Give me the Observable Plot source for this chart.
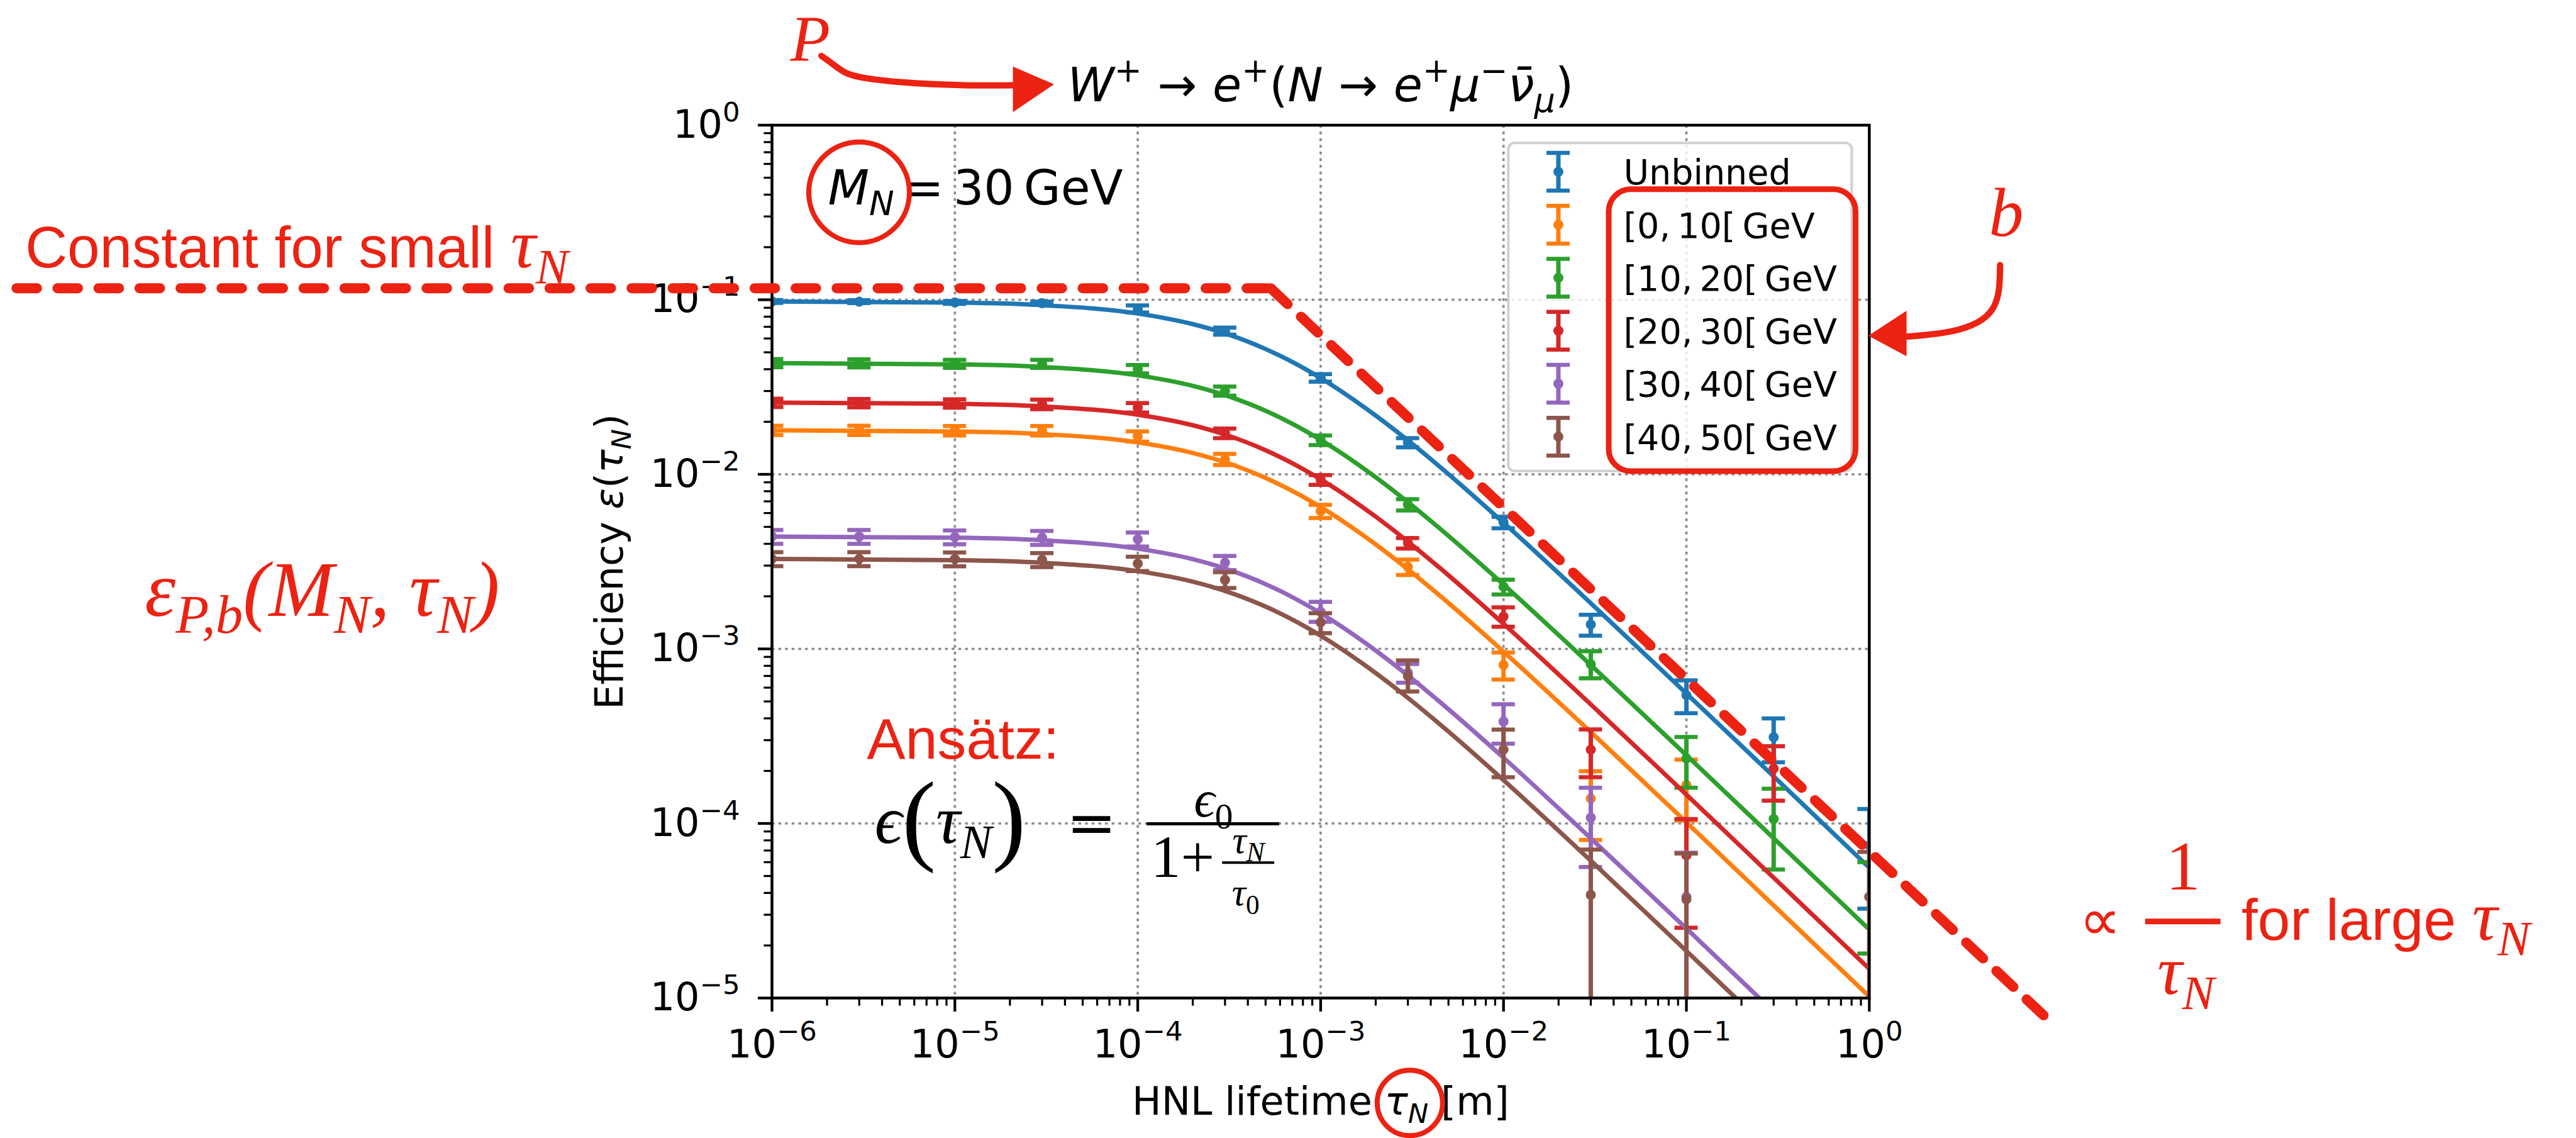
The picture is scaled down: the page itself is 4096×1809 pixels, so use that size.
<!DOCTYPE html>
<html><head><meta charset="utf-8">
<script src="https://cdn.jsdelivr.net/npm/d3@7"></script>
<script src="https://cdn.jsdelivr.net/npm/@observablehq/plot@0.6"></script>
<style>
html,body{margin:0;padding:0;background:#fff;}
#chart{width:4096px;height:1809px;overflow:hidden;}
svg [aria-label^="x-axis"] line, svg [aria-label^="x-axis"] path,
svg [aria-label^="y-axis"] line, svg [aria-label^="y-axis"] path { stroke-width: 4.3px; stroke: #000; }
svg [aria-label^="x-axis"] text, svg [aria-label^="y-axis"] text { font-size: 62px; }
</style></head><body><div id="chart"></div>
<script>
// ---------------- data ----------------
const tau = [1e-6, 3e-6, 1e-5, 3e-5, 1e-4, 3e-4, 1e-3, 3e-3, 1e-2, 3e-2, 1e-1, 3e-1, 1];

const seriesNames = ["Unbinned", "[0,\u200910[\u2009GeV", "[10,\u200920[\u2009GeV", "[20,\u200930[\u2009GeV", "[30,\u200940[\u2009GeV", "[40,\u200950[\u2009GeV"];
const seriesColors = ["#1f77b4", "#ff7f0e", "#2ca02c", "#d62728", "#9467bd", "#8c564b"];

const effUnbinned = [0.0977, 0.0975, 0.0965, 0.0955, 0.0887, 0.0662, 0.0357, 0.0152, 0.00531, 0.00138, 0.000543, 0.000312, 0.000075];
const hiUnbinned  = [0.0995, 0.0993, 0.0983, 0.0975, 0.0928, 0.0693, 0.0375, 0.0161, 0.00571, 0.00157, 0.00066, 0.0004, 0.000121];
const loUnbinned  = [0.0959, 0.0957, 0.0947, 0.0935, 0.0846, 0.0631, 0.0339, 0.0143, 0.00491, 0.00119, 0.000428, 0.000224, 0.0000325];

const eff0to10 = [0.0179, 0.0179, 0.0178, 0.0178, 0.0165, 0.0122, 0.00615, 0.00295, 0.000809, 0.000139, 0.000166, null, null];
const hi0to10  = [0.0190, 0.0190, 0.0189, 0.0189, 0.0176, 0.0131, 0.00668, 0.00325, 0.000953, 0.000199, 0.000232, null, null];
const lo0to10  = [0.0168, 0.0168, 0.0167, 0.0167, 0.0154, 0.0113, 0.00562, 0.00265, 0.000667, 0.0000805, 0.000104, null, null];

const eff10to20 = [0.0434, 0.0433, 0.0430, 0.0430, 0.0401, 0.0300, 0.0157, 0.0067, 0.00227, 0.000817, 0.000236, 0.000106, 0.000038];
const hi10to20  = [0.0457, 0.0456, 0.0453, 0.0453, 0.0423, 0.0318, 0.0167, 0.0072, 0.00249, 0.000969, 0.000313, 0.000158, 0.00006];
const lo10to20  = [0.0411, 0.0410, 0.0407, 0.0407, 0.0379, 0.0282, 0.0147, 0.0062, 0.00205, 0.000678, 0.00016, 0.0000544, 0.000018];

const eff20to30 = [0.0257, 0.0256, 0.0255, 0.0252, 0.0241, 0.0172, 0.0093, 0.00404, 0.00153, 0.000265, 0.0000657, 0.000206, null];
const hi20to30  = [0.0271, 0.0270, 0.0269, 0.0268, 0.0256, 0.0183, 0.0099, 0.00432, 0.00173, 0.000346, 0.000106, 0.000277, null];
const lo20to30  = [0.0243, 0.0242, 0.0241, 0.0236, 0.0226, 0.0161, 0.0087, 0.00376, 0.00134, 0.000184, 0.0000253, 0.000135, null];

const eff30to40 = [0.00440, 0.00440, 0.00437, 0.00434, 0.00425, 0.00312, 0.00163, 0.00073, 0.000384, 0.000108, 0.000038, null, null];
const hi30to40  = [0.00480, 0.00480, 0.00477, 0.00474, 0.00464, 0.00341, 0.00186, 0.00082, 0.000482, 0.00016, 0.000068, null, null];
const lo30to40  = [0.00400, 0.00400, 0.00397, 0.00394, 0.00386, 0.00283, 0.00143, 0.00064, 0.000286, 0.0000563, 1e-7, null, null];

const eff40to50 = [0.00328, 0.00328, 0.00327, 0.00324, 0.00308, 0.00249, 0.00142, 0.00070, 0.000265, 0.000039, 0.0000368, null, 0.000038];
const hi40to50  = [0.00358, 0.00358, 0.00357, 0.00354, 0.00337, 0.00275, 0.00160, 0.00086, 0.000345, 0.0000708, 0.0000673, null, 0.0000687];
const lo40to50  = [0.00298, 0.00298, 0.00297, 0.00294, 0.00279, 0.00223, 0.00123, 0.00057, 0.000184, 1e-7, 1e-7, null, 1e-7];

// fitted curves
const fitTau = [1e-6, 1e-5, 3e-5, 1e-4, 2e-4, 3e-4, 5e-4, 7e-4, 1e-3, 2e-3, 3e-3, 5e-3, 1e-2, 3e-2, 1e-1, 3e-1, 1];
const fitUnbinned = [0.0978, 0.0963, 0.0931, 0.0834, 0.0725, 0.0642, 0.0522, 0.0440, 0.0356, 0.0217, 0.01565, 0.01003, 0.00528, 0.001827, 0.000555, 0.000186, 0.0000558];
const fit0to10  = [0.01787, 0.01759, 0.01701, 0.01523, 0.01325, 0.01173, 0.009535, 0.008034, 0.006499, 0.00397, 0.002858, 0.001832, 0.000965, 0.000334, 0.0001015, 0.0000339, 0.0000102];
const fit10to20 = [0.04332, 0.04265, 0.04123, 0.03692, 0.03213, 0.02843, 0.02312, 0.01948, 0.01576, 0.009626, 0.006929, 0.004441, 0.00234, 0.000809, 0.000246, 0.0000823, 0.0000247];
const fit20to30 = [0.02575, 0.02536, 0.02451, 0.02195, 0.0191, 0.0169, 0.01374, 0.01158, 0.009367, 0.005722, 0.004119, 0.00264, 0.001391, 0.000481, 0.0001462, 0.0000489, 0.0000147];
const fit30to40 = [0.004402, 0.004334, 0.00419, 0.003752, 0.003265, 0.002889, 0.002349, 0.001979, 0.001601, 0.000978, 0.000704, 0.000451, 0.000238, 0.0000822, 0.000025, 0.00000836, 0.00000251];
const fit40to50 = [0.003274, 0.003223, 0.003116, 0.00279, 0.002428, 0.002149, 0.001747, 0.001472, 0.001191, 0.000727, 0.000524, 0.000336, 0.000177, 0.0000612, 0.0000186, 0.00000622, 0.00000187];

// axis ticks
const xMajor = [1e-6, 1e-5, 1e-4, 1e-3, 1e-2, 1e-1, 1];
const xTickLabels = ["10^{\u22126}", "10^{\u22125}", "10^{\u22124}", "10^{\u22123}", "10^{\u22122}", "10^{\u22121}", "10^{0}"];
const yMajor = [1e-5, 1e-4, 1e-3, 1e-2, 1e-1, 1];
const yTickLabels = ["10^{\u22125}", "10^{\u22124}", "10^{\u22123}", "10^{\u22122}", "10^{\u22121}", "10^{0}"];

// texts
const titleText = "*W*^{+}\u2004\u2192\u2004*e*^{+}(*N*\u2004\u2192\u2004*e*^{+}*\u03bc*^{\u2212}*\u03bd\u0304*_{*\u03bc*})";
const massText = "*M*_{*N*}\u2009=\u200930\u2009GeV";
const xLabel = "HNL lifetime *\u03c4*_{*N*} [m]";
const yLabel = "Efficiency *\u03b5*(*\u03c4*_{*N*})";

// annotation anchors in log10(tau), log10(eff)
const RED = "#ec2212";
const constLine = [[-10.131, -0.934], [-3.273, -0.934]];
const slopeLine = [[-3.273, -0.934], [0.957, -5.103]];
const pArrow = [[-5.730, 0.397], [-5.675, 0.356], [-5.600, 0.302], [-5.490, 0.270], [-5.275, 0.245], [-4.951, 0.229], [-4.681, 0.229]];
const pHead = [[-4.681, 0.3338, 0.0731], [-4.456, 0.232, 0.232]];
const bArrow = [[0.715, -0.801], [0.709, -0.938], [0.676, -1.049], [0.594, -1.128], [0.457, -1.179], [0.306, -1.202], [0.206, -1.211]];
const bHead = [[-0.0036, -1.2079, -1.2079], [0.2055, -1.0648, -1.3255]];

// ---------------- helpers ----------------
const P10 = v => 10 ** v;
const capF = 10 ** (18.5 / 290.8);        // half width of error caps (px / px-per-decade)
const series = seriesNames.map((name, i) => ({
  name, color: seriesColors[i],
  eff: [effUnbinned, eff0to10, eff10to20, eff20to30, eff30to40, eff40to50][i],
  hi: [hiUnbinned, hi0to10, hi10to20, hi20to30, hi30to40, hi40to50][i],
  lo: [loUnbinned, lo0to10, lo10to20, lo20to30, lo30to40, lo40to50][i],
  fit: [fitUnbinned, fit0to10, fit10to20, fit20to30, fit30to40, fit40to50][i]
}));
const pts = s => tau.map((t, i) => ({tau: t, eff: s.eff[i], hi: s.hi[i], lo: s.lo[i]})).filter(d => d.eff != null);
const fitRows = s => fitTau.map((t, i) => ({tau: t, eff: s.fit[i]}));
const xMinor = [], yMinor = [];
for (let k = -6; k < 0; k++) for (let m = 2; m <= 9; m++) xMinor.push(m * 10 ** k);
for (let k = -5; k < 0; k++) for (let m = 2; m <= 9; m++) yMinor.push(m * 10 ** k);

const legendTopLY = -0.267, legendStepLY = 0.3035, legendIconLX = -1.700, legendTextLX = -1.344;
const legendRows = series.map((s, i) => ({label: s.name, color: s.color, ly: legendTopLY - i * legendStepLY}));

const lineRows = arr => arr.map(([a, b]) => ({x: P10(a), y: P10(b)}));
const headRows = arr => arr.map(([a, b, c]) => ({x: P10(a), y1: P10(b), y2: P10(c)}));
const txt = (lx, ly, text) => [{x: P10(lx), y: P10(ly), text}];

const dataMarks = series.flatMap(s => [
  Plot.line(fitRows(s), {x: "tau", y: "eff", stroke: s.color, strokeWidth: 7, curve: "monotone-x", clip: true}),
  Plot.ruleX(pts(s), {x: "tau", y1: "lo", y2: "hi", stroke: s.color, strokeWidth: 7, clip: true}),
  Plot.ruleY(pts(s), {y: "hi", x1: d => d.tau / capF, x2: d => d.tau * capF, stroke: s.color, strokeWidth: 6.5, clip: true}),
  Plot.ruleY(pts(s), {y: "lo", x1: d => d.tau / capF, x2: d => d.tau * capF, stroke: s.color, strokeWidth: 6.5, clip: true}),
  Plot.dot(pts(s), {x: "tau", y: "eff", r: 8, fill: s.color, clip: true})
]);

const sans = "'DejaVu Sans', sans-serif";
const redSans = "'Liberation Sans', Arial, sans-serif";
const serif = "'Liberation Serif', 'Times New Roman', serif";

const svg = Plot.plot({
  width: 4096, height: 1809,
  marginLeft: 1227, marginRight: 1124.2, marginTop: 198.5, marginBottom: 223,
  style: {background: "#fff", fontFamily: sans, fontSize: "62px", color: "#000", overflow: "visible"},
  x: {type: "log", domain: [1e-6, 1], ticks: xMajor, tickFormat: d => xTickLabels[xMajor.indexOf(d)], tickSize: 22, tickPadding: 28, label: null},
  y: {type: "log", domain: [1e-5, 1], ticks: yMajor, tickFormat: d => yTickLabels[yMajor.indexOf(d)], tickSize: 22, tickPadding: 29, label: null},
  marks: [
    // grid
    Plot.ruleX(xMajor, {x: d => d, stroke: "#8c8c8c", strokeWidth: 3.7, strokeDasharray: "4.5,6.1"}),
    Plot.ruleY(yMajor, {y: d => d, stroke: "#8c8c8c", strokeWidth: 3.7, strokeDasharray: "4.5,6.1"}),
    // minor ticks
    Plot.ruleX(xMinor, {x: d => d, y1: () => 1e-5, y2: () => 1e-5 * 10 ** (-12.6 / 277.5), stroke: "#000", strokeWidth: 3.2}),
    Plot.ruleY(yMinor, {y: d => d, x1: () => 1e-6, x2: () => 1e-6 * 10 ** (-12.6 / 290.8), stroke: "#000", strokeWidth: 3.2}),
    ...dataMarks,
    Plot.frame({stroke: "#000", strokeWidth: 4.5}),
    // legend
    Plot.rect([{}], {x1: () => P10(-1.972), x2: () => P10(-0.0945), y1: () => P10(-0.1033), y2: () => P10(-1.9825), rx: 10, fill: "#fff", fillOpacity: 0.8, stroke: "#d0d0d0", strokeWidth: 4}),
    Plot.ruleX(legendRows, {x: () => P10(legendIconLX), y1: d => P10(d.ly - 0.108), y2: d => P10(d.ly + 0.108), stroke: "color", strokeWidth: 7}),
    Plot.ruleY(legendRows, {y: d => P10(d.ly - 0.108), x1: () => P10(legendIconLX) / capF, x2: () => P10(legendIconLX) * capF, stroke: "color", strokeWidth: 6.5}),
    Plot.ruleY(legendRows, {y: d => P10(d.ly + 0.108), x1: () => P10(legendIconLX) / capF, x2: () => P10(legendIconLX) * capF, stroke: "color", strokeWidth: 6.5}),
    Plot.dot(legendRows, {x: () => P10(legendIconLX), y: d => P10(d.ly), r: 8, fill: "color"}),
    Plot.text(legendRows, {x: () => P10(legendTextLX), y: d => P10(d.ly - 0.0735), text: "label", textAnchor: "start", lineAnchor: "bottom", fontSize: 55.5, fill: "#000"}),
    // black texts
    Plot.text([titleText], {text: d => d, frameAnchor: "top", dy: -38, textAnchor: "middle", lineAnchor: "bottom", fontSize: 75, fill: "#000"}),
    Plot.text([massText], {text: d => d, frameAnchor: "top-left", dx: 89, dy: 126, lineAnchor: "bottom", textAnchor: "start", fontSize: 76, fill: "#000"}),
    Plot.text([yLabel], {text: d => d, frameAnchor: "left", rotate: -90, dx: -238, textAnchor: "middle", lineAnchor: "bottom", fontSize: 62, fill: "#000"}),
    Plot.text([xLabel], {text: d => d, frameAnchor: "bottom", dy: 185, textAnchor: "middle", lineAnchor: "bottom", fontSize: 62, fill: "#000"}),
    // ansatz formula
    Plot.text(txt(-5.439, -4.113, "*\u03f5*!{(}*\u03c4*_{*N*}!{)}"), {x: "x", y: "y", text: "text", textAnchor: "start", lineAnchor: "bottom", fontFamily: serif, fontSize: 108, fill: "#000"}),
    Plot.text(txt(-4.253, -4.113, "="), {x: "x", y: "y", text: "text", lineAnchor: "bottom", fontFamily: sans, fontSize: 95, fill: "#000"}),
    Plot.ruleY([{}], {y: () => P10(-4.002), x1: () => P10(-3.950), x2: () => P10(-3.225), stroke: "#000", strokeWidth: 5}),
    Plot.text(txt(-3.586, -3.962, "*\u03f5*_{0}"), {x: "x", y: "y", text: "text", lineAnchor: "bottom", fontFamily: serif, fontSize: 82, fill: "#000"}),
    Plot.text(txt(-3.928, -4.307, "1+"), {x: "x", y: "y", text: "text", textAnchor: "start", lineAnchor: "bottom", fontFamily: serif, fontSize: 95, fill: "#000"}),
    Plot.text(txt(-3.395, -4.168, "*\u03c4*_{*N*}"), {x: "x", y: "y", text: "text", lineAnchor: "bottom", fontFamily: serif, fontSize: 62, fill: "#000"}),
    Plot.ruleY([{}], {y: () => P10(-4.224), x1: () => P10(-3.537), x2: () => P10(-3.252), stroke: "#000", strokeWidth: 4}),
    Plot.text(txt(-3.410, -4.469, "*\u03c4*_{0}"), {x: "x", y: "y", text: "text", lineAnchor: "bottom", fontFamily: serif, fontSize: 62, fill: "#000"}),
    // red annotations
    Plot.line(lineRows(constLine), {x: "x", y: "y", stroke: RED, strokeWidth: 16, strokeDasharray: "32.6,32.6"}),
    Plot.line(lineRows(slopeLine), {x: "x", y: "y", stroke: RED, strokeWidth: 16, strokeDasharray: "37,29"}),
    Plot.rect([{}], {x1: () => P10(-1.4231), x2: () => P10(-0.0734), y1: () => P10(-0.3687), y2: () => P10(-1.9835), rx: 35, fill: "none", stroke: RED, strokeWidth: 9}),
    Plot.dot(txt(-5.5238, -0.3846, ""), {x: "x", y: "y", r: 80, stroke: RED, strokeWidth: 8, fill: "none"}),
    Plot.dot(txt(-2.512, -5.601, ""), {x: "x", y: "y", r: 52, stroke: RED, strokeWidth: 8, fill: "none"}),
    Plot.line(lineRows(pArrow), {x: "x", y: "y", curve: "natural", stroke: RED, strokeWidth: 10, strokeLinecap: "round"}),
    Plot.areaY(headRows(pHead), {x: "x", y1: "y1", y2: "y2", fill: RED}),
    Plot.line(lineRows(bArrow), {x: "x", y: "y", curve: "natural", stroke: RED, strokeWidth: 10, strokeLinecap: "round"}),
    Plot.areaY(headRows(bHead), {x: "x", y1: "y1", y2: "y2", fill: RED}),
    Plot.text(txt(-5.7907, 0.3658, "P"), {x: "x", y: "y", text: "text", lineAnchor: "bottom", fontFamily: serif, fontStyle: "italic", fontSize: 104, fill: RED}),
    Plot.text(txt(0.7486, -0.6357, "b"), {x: "x", y: "y", text: "text", lineAnchor: "bottom", fontFamily: serif, fontStyle: "italic", fontSize: 110, fill: RED}),
    Plot.text(txt(-10.083, -0.8157, "Constant for small ~*\u03c4*_{*N*}~"), {x: "x", y: "y", text: "text", textAnchor: "start", lineAnchor: "bottom", fontFamily: redSans, fontSize: 92.6, fill: RED}),
    Plot.text(txt(-9.429, -2.810, "\u03b5_{P,b}(M_{N}, \u03c4_{N})"), {x: "x", y: "y", text: "text", textAnchor: "start", lineAnchor: "bottom", fontFamily: serif, fontStyle: "italic", fontSize: 124, fill: RED}),
    Plot.text(txt(-5.481, -3.630, "Ans\u00e4tz:"), {x: "x", y: "y", text: "text", textAnchor: "start", lineAnchor: "bottom", fontFamily: redSans, fontSize: 91.7, fill: RED}),
    Plot.text(txt(1.149, -4.666, "\u221d"), {x: "x", y: "y", text: "text", textAnchor: "start", lineAnchor: "bottom", fontFamily: redSans, fontSize: 93, fill: RED}),
    Plot.text(txt(1.716, -4.377, "1"), {x: "x", y: "y", text: "text", lineAnchor: "bottom", fontFamily: serif, fontSize: 110, fill: RED}),
    Plot.ruleY([{}], {y: () => P10(-4.561), x1: () => P10(1.510), x2: () => P10(1.922), stroke: RED, strokeWidth: 9}),
    Plot.text(txt(1.731, -4.975, "\u03c4_{N}"), {x: "x", y: "y", text: "text", lineAnchor: "bottom", fontFamily: serif, fontStyle: "italic", fontSize: 110, fill: RED}),
    Plot.text(txt(2.0346, -4.666, "for large ~*\u03c4*_{*N*}~"), {x: "x", y: "y", text: "text", textAnchor: "start", lineAnchor: "bottom", fontFamily: redSans, fontSize: 93, fill: RED})
  ]
});
document.getElementById("chart").appendChild(svg);

// ---------------- light math markup -> tspans ----------------
function parseMarkup(s) {
  const segs = [];
  let it = false, sf = false;
  const push = (ch, lvl) => {
    const last = segs[segs.length - 1];
    if (last && last.it === it && last.sf === sf && last.lvl === lvl) last.t += ch;
    else segs.push({t: ch, it, sf, lvl});
  };
  const walk = (str, lvl) => {
    for (let i = 0; i < str.length; i++) {
      const c = str[i];
      if (c === "*") { it = !it; continue; }
      if (c === "~") { sf = !sf; continue; }
      if ((c === "^" || c === "_" || c === "!") && str[i + 1] === "{") {
        let depth = 1, j = i + 2;
        while (j < str.length && depth > 0) { if (str[j] === "{") depth++; else if (str[j] === "}") depth--; j++; }
        walk(str.slice(i + 2, j - 1), c === "^" ? "sup" : c === "_" ? "sub" : "big");
        i = j - 1; continue;
      }
      push(c, lvl);
    }
  };
  walk(s, "base");
  return segs;
}
function renderMarkup(el) {
  const raw = el.textContent;
  if (!/[*~]|[\^_!]\{/.test(raw)) return;
  const fs = parseFloat(getComputedStyle(el).fontSize);
  const segs = parseMarkup(raw);
  while (el.firstChild) el.removeChild(el.firstChild);
  let cur = 0;
  for (const sg of segs) {
    const ts = document.createElementNS("http://www.w3.org/2000/svg", "tspan");
    const k = sg.sf ? 1.2 : 1;
    let size = fs * k, off = 0;
    if (sg.lvl === "sup") { size = 0.7 * fs * k; off = -0.42 * fs * k; }
    else if (sg.lvl === "sub") { size = 0.7 * fs * k; off = 0.22 * fs * k; }
    else if (sg.lvl === "big") { size = 1.5 * fs; off = 0.13 * fs; }
    ts.setAttribute("font-size", size.toFixed(2));
    if (sg.it) ts.setAttribute("font-style", "italic");
    if (sg.sf) ts.setAttribute("font-family", serif);
    if (Math.abs(off - cur) > 1e-6) { ts.setAttribute("dy", (off - cur).toFixed(2)); cur = off; }
    ts.textContent = sg.t;
    el.appendChild(ts);
  }
}
svg.querySelectorAll("text").forEach(renderMarkup);
</script></body></html>
